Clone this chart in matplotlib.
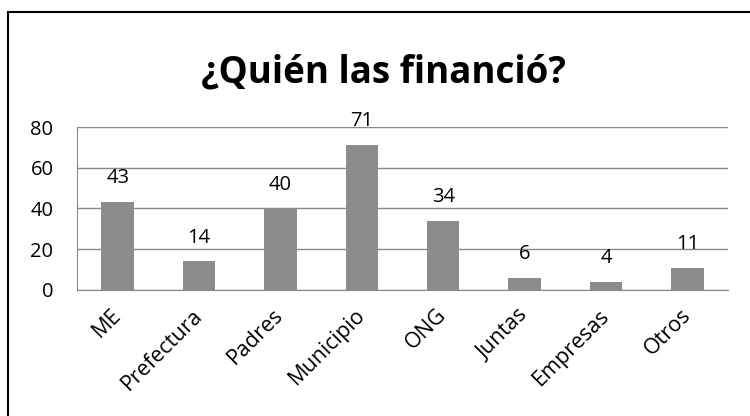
import matplotlib.pyplot as plt
from matplotlib.patches import Rectangle

categories = ['ME', 'Prefectura', 'Padres', 'Municipio', 'ONG', 'Juntas', 'Empresas', 'Otros']
values = [43, 14, 40, 71, 34, 6, 4, 11]
y_ticks = [0, 20, 40, 60, 80]

plt.rcParams['font.family'] = ['Open Sans', 'DejaVu Sans']

fig = plt.figure(figsize=(7.5, 4.16), dpi=100)
# outer chart border (right and bottom edges fall outside the picture)
fig.patches.append(Rectangle((7.5 / 750, -0.05), 1.1, 1 - 11.5 / 416 + 0.05,
                             transform=fig.transFigure, fill=False,
                             edgecolor='black', linewidth=1.5, clip_on=False))

ax = fig.add_axes([0.1027, 0.3029, 0.868, 0.3918])
x = range(len(categories))
ax.bar(x, values, width=0.4, color='#8c8c8c', zorder=3)

for xi, v in zip(x, values):
    ax.annotate(str(v), (xi, v), xytext=(0, 10), textcoords='offset points',
                ha='center', va='bottom', fontsize=14.5)

ax.set_ylim(0, 80)
ax.set_xlim(-0.5, len(categories) - 0.5)
ax.set_yticks(y_ticks)
ax.yaxis.grid(True, color='#888888', linewidth=1, zorder=0)
ax.set_xticks(list(x))
ax.set_xticklabels(categories, rotation=45, ha='right', va='center',
                   rotation_mode='anchor', fontsize=15.5)
ax.tick_params(axis='both', length=0)
ax.tick_params(axis='y', pad=17, labelsize=14.5)
ax.tick_params(axis='x', pad=16)

for side in ['top', 'right']:
    ax.spines[side].set_visible(False)
for side in ['left', 'bottom']:
    ax.spines[side].set_color('#888888')

fig.text(0.511, 0.825, '¿Quién las financió?', ha='center', va='center',
         fontsize=26.5, fontweight='bold')

fig.savefig('out.png', dpi=100)
